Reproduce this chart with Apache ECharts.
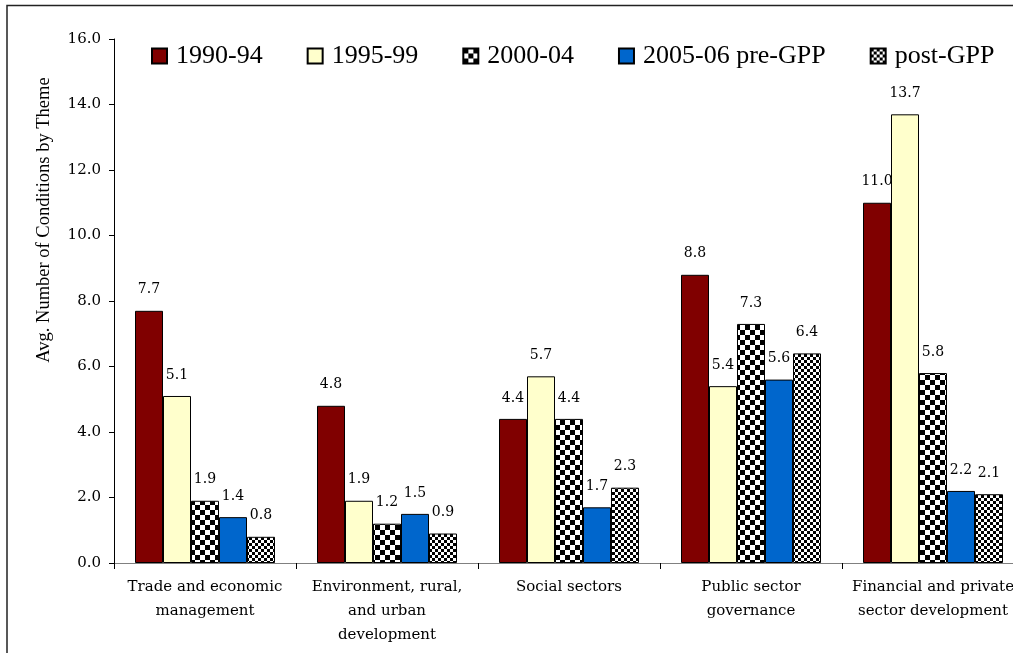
<!DOCTYPE html>
<html>
<head>
<meta charset="utf-8">
<script src="https://cdn.jsdelivr.net/npm/echarts@6/dist/echarts.min.js"></script>
<style>
  html, body { margin: 0; padding: 0; background: #fff; }
  #chart { width: 1013px; height: 653px; }
</style>
</head>
<body>
<div id="chart"></div>
<script>
// data
const themes = [
  'Trade and economic\nmanagement',
  'Environment, rural,\nand urban\ndevelopment',
  'Social sectors',
  'Public sector\ngovernance',
  'Financial and private\nsector development'
];
const periods = ['1990-94', '1995-99', '2000-04', '2005-06 pre-GPP', 'post-GPP'];
const v1990 = [7.7, 4.8, 4.4, 8.8, 11.0];
const v1995 = [5.1, 1.9, 5.7, 5.4, 13.7];
const v2000 = [1.9, 1.2, 4.4, 7.3, 5.8];
const v2005 = [1.4, 1.5, 1.7, 5.6, 2.2];
const vPost = [0.8, 0.9, 2.3, 6.4, 2.1];
const yTicks = [0, 2, 4, 6, 8, 10, 12, 14, 16];

// checkerboard fills
function checker(cell) {
  const c = document.createElement('canvas');
  c.width = c.height = cell * 2;
  const ctx = c.getContext('2d');
  ctx.fillStyle = '#fff';
  ctx.fillRect(0, 0, cell * 2, cell * 2);
  ctx.fillStyle = '#000';
  ctx.fillRect(0, 0, cell, cell);
  ctx.fillRect(cell, cell, cell, cell);
  return { image: c, repeat: 'repeat' };
}

const fills = ['#800000', '#FFFFCC', checker(5), '#0066CC', checker(3)];
const values = [v1990, v1995, v2000, v2005, vPost];

const serif = 'DejaVu Serif';

let chart = echarts.init(document.getElementById('chart'));
const option = {
  animation: false,
  textStyle: { fontFamily: serif },
  grid: {
    left: 114,
    top: 39,
    bottom: 90,
    right: -11,
    outerBoundsMode: 'none'
  },
  legend: {
    left: 151,
    top: 43,
    padding: 0,
    icon: 'rect',
    itemWidth: 15,
    itemHeight: 15,
    itemGap: 44,
    data: periods,
    textStyle: {
      fontFamily: 'Liberation Serif',
      fontSize: 26,
      lineHeight: 26,
      color: '#000',
      padding: [0, 0, 0, 4]
    }
  },
  graphic: [
    {
      type: 'rect',
      shape: { x: 7, y: 5.5, width: 1200, height: 900 },
      style: { fill: 'none', stroke: '#222', lineWidth: 1.5 },
      silent: true
    },
    {
      type: 'text',
      x: 44,
      y: 220,
      rotation: Math.PI / 2,
      style: {
        text: 'Avg. Number of Conditions by Theme',
        fontFamily: 'Liberation Serif',
        fontSize: 18.5,
        fill: '#000',
        align: 'center',
        verticalAlign: 'middle'
      }
    }
  ],
  xAxis: {
    type: 'category',
    data: themes,
    axisLine: { lineStyle: { color: '#808080', width: 1 } },
    axisTick: { show: true, length: 6, lineStyle: { color: '#000' } },
    axisLabel: {
      interval: 0,
      margin: 12,
      fontFamily: serif,
      fontSize: 15,
      lineHeight: 24,
      color: '#000'
    },
    splitLine: { show: false }
  },
  yAxis: {
    type: 'value',
    min: yTicks[0],
    max: yTicks[yTicks.length - 1],
    interval: 2,
    axisLine: { show: true, lineStyle: { color: '#000', width: 1 } },
    axisTick: { show: true, length: 5, lineStyle: { color: '#000' } },
    axisLabel: {
      margin: 13,
      fontFamily: serif,
      fontSize: 15,
      color: '#000',
      formatter: v => v.toFixed(1)
    },
    splitLine: { show: false }
  },
  series: periods.map((name, i) => ({
    name: name,
    type: 'bar',
    data: values[i],
    barWidth: 28,
    barGap: '0%',
    itemStyle: {
      color: fills[i],
      borderColor: '#000',
      borderWidth: 1
    },
    label: {
      show: true,
      position: 'top',
      distance: 14,
      fontFamily: serif,
      fontSize: 14,
      color: '#000',
      formatter: p => p.value.toFixed(1)
    }
  }))
};

chart.setOption(option);
</script>
</body>
</html>
